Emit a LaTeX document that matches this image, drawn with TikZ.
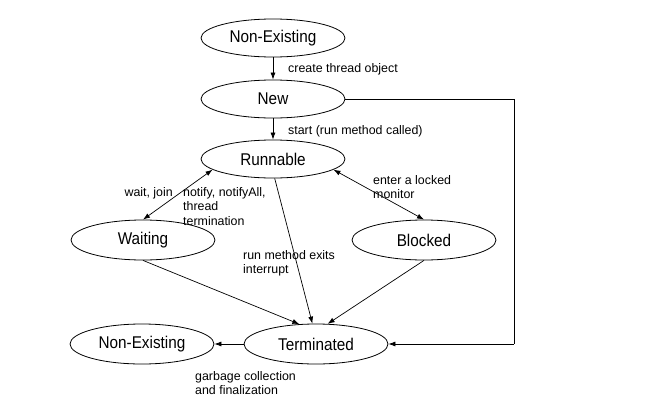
\documentclass[tikz,border=0pt]{standalone}
\usepackage{fontspec}
\setmainfont{Liberation Sans}
\newfontfamily\statefont{Liberation Sans}[FakeStretch=0.9]
\usetikzlibrary{arrows.meta,shapes.geometric}
\begin{document}
\begin{tikzpicture}[x=1pt,y=-1pt,
  state/.style={draw,ellipse,line width=0.8pt,minimum width=144pt,minimum height=38pt,inner sep=0pt,font=\statefont\fontsize{17}{20}\selectfont},
  lbl/.style={anchor=base west,inner sep=0pt,align=left,font=\fontsize{12.4}{14.5}\selectfont},
  arr/.style={line width=0.7pt,-{Latex[length=7pt,width=5pt]}},
  darr/.style={line width=0.7pt,{Latex[length=7pt,width=5pt]}-{Latex[length=7pt,width=5pt]}}]
\useasboundingbox (0,0) rectangle (667,418);
\node[state] (ne1) at (273,38) {Non-Existing};
\node[state] (new) at (273,99) {New};
\node[state] (run) at (273,159) {Runnable};
\node[state,minimum height=40pt] (wait) at (143,240) {Waiting};
\node[state,minimum height=40pt] (blk) at (424,240) {Blocked};
\node[state,minimum height=40pt] (term) at (316,344) {Terminated};
\node[state,minimum height=40pt] (ne2) at (142,344) {Non-Existing};
\coordinate (c1) at (514,99);
\coordinate (c2) at (514,344);
\draw[arr] (ne1) -- (new);
\draw[arr] (new) -- (run);
\draw[line width=0.7pt] (new.east) -- (c1) -- (c2);
\draw[arr] (c2) -- (term.east);
\draw[darr] (run.190) -- (wait.90);
\draw[darr] (run.-10) -- (blk.90);
\draw[arr] (run.-85) -- (term.100);
\draw[arr] (wait.-90) -- (term.130);
\draw[arr] (blk.-90) -- (term.60);
\draw[arr] (term.west) -- (ne2.east);
\node[lbl] (l1) at (288,72) {create thread object};
\node[lbl] (l2) at (288,134) {start (run method called)};
\node[lbl,anchor=base east] (l3) at (173,196) {wait, join};
\node[lbl] (l4) at (183,225) {notify, notifyAll,\\thread\\termination};
\node[lbl] (l5) at (243,273.5) {run method exits\\interrupt};
\node[lbl] (l6) at (373,198.5) {enter a locked\\monitor};
\node[lbl] (l7) at (195,394.5) {garbage collection\\and finalization};
\end{tikzpicture}
\end{document}
